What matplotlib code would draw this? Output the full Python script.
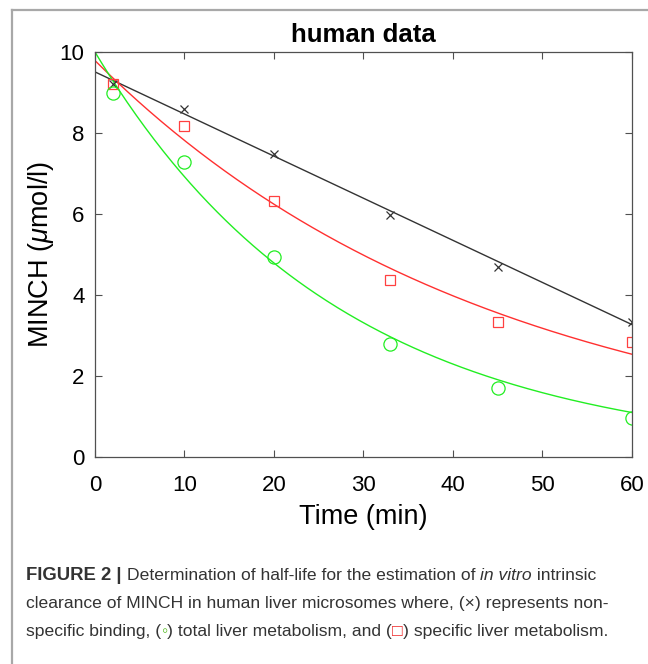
import numpy as np
import matplotlib.pyplot as plt
from matplotlib.lines import Line2D

plt.rcParams['font.family'] = ['Liberation Sans', 'DejaVu Sans']
plt.rcParams['mathtext.fontset'] = 'custom'
plt.rcParams['mathtext.it'] = 'Liberation Sans:italic'
plt.rcParams['mathtext.rm'] = 'Liberation Sans'

# measured data (time in min, MINCH in umol/l)
time = [2, 10, 20, 33, 45, 60]
nonspecific = [9.2, 8.6, 7.48, 5.97, 4.70, 3.33]
specific = [9.2, 8.17, 6.32, 4.38, 3.33, 2.83]
total = [9.0, 7.28, 4.94, 2.79, 1.70, 0.97]

# fitted model parameters
lin_fit = (9.51, -0.104)        # intercept, slope
spec_fit = (9.79, 0.0225)       # C0, k
total_fit = (10.0, 0.0368)      # C0, k

fig = plt.figure(figsize=(6.48, 6.64), dpi=100)
ax = fig.add_axes([0.1466, 0.3117, 0.8287, 0.6099])

t = np.linspace(0, 60, 300)
ax.plot(t, lin_fit[0] + lin_fit[1] * t, color='#333333', lw=1.0)
ax.plot(t, spec_fit[0] * np.exp(-spec_fit[1] * t), color='#ff3030', lw=1.0)
ax.plot(t, total_fit[0] * np.exp(-total_fit[1] * t), color='#22ee22', lw=1.0)

ax.plot(time, nonspecific, 'x', color='#333333', ms=6, mew=0.9)
ax.plot(time, specific, 's', mfc='none', mec='#ff4040', ms=7, mew=0.9)
ax.plot(time, total, 'o', mfc='none', mec='#22ee22', ms=9.5, mew=0.9)

ax.set_xlim(0, 60)
ax.set_ylim(0, 10)
ax.set_xticks(range(0, 61, 10))
ax.set_yticks(range(0, 11, 2))
ax.tick_params(direction='in', top=True, right=True, length=5, width=0.8,
               labelsize=16, colors='#505050', labelcolor='black')
ax.tick_params(axis='x', pad=13)
ax.tick_params(axis='y', pad=7.5)
for s in ax.spines.values():
    s.set_color('#505050')
    s.set_linewidth(0.9)

ax.set_title('human data', fontsize=18.5, fontweight='bold', pad=7)
ax.set_xlabel('Time (min)', fontsize=19.5, labelpad=6)
ax.set_ylabel(r'MINCH ($\mu$mol/l)', fontsize=19.5, labelpad=3)

# outer panel frame (top and left edges)
fig.add_artist(Line2D([12 / 648, 1], [1 - 10 / 664, 1 - 10 / 664], color='#a8a8a8', lw=1.6))
fig.add_artist(Line2D([12 / 648, 12 / 648], [0, 1 - 10 / 664], color='#a8a8a8', lw=1.6))

# caption, built from styled pieces
cap_col = '#333333'
lines = [
    [('FIGURE 2 | ', 'bold', 'normal', cap_col, 13.3), ('Determination of half-life for the estimation of ', 'normal', 'normal', cap_col, 12.6),
     ('in vitro', 'normal', 'italic', cap_col, 12.6), (' intrinsic', 'normal', 'normal', cap_col, 12.6)],
    [('clearance of MINCH in human liver microsomes where, (\u00d7) represents non-', 'normal', 'normal', cap_col, 12.6)],
    [('specific binding, (', 'normal', 'normal', cap_col, 12.6), ('\u25e6', 'bold', 'normal', '#55bb22', 12.6),
     (') total liver metabolism, and (', 'normal', 'normal', cap_col, 12.6), ('\u25a1', 'bold', 'normal', '#ee2222', 12.6),
     (') specific liver metabolism.', 'normal', 'normal', cap_col, 12.6)],
]
baselines = [580, 608, 636]
fig.canvas.draw()
renderer = fig.canvas.get_renderer()
for pieces, yb in zip(lines, baselines):
    x = 26
    for txt, weight, style, col, size in pieces:
        tx = fig.text(x / 648, 1 - yb / 664, txt, fontsize=size, fontweight=weight,
                      fontstyle=style, color=col, va='baseline', ha='left')
        w = tx.get_window_extent(renderer).width
        # trailing spaces are not always counted in the extent
        if txt.endswith(' '):
            probe = fig.text(0, 0, 'a a', fontsize=size)
            probe2 = fig.text(0, 0, 'aa', fontsize=size)
            sp = probe.get_window_extent(renderer).width - probe2.get_window_extent(renderer).width
            wn = fig.text(0, 0, txt.rstrip(), fontsize=size, fontweight=weight, fontstyle=style)
            w = max(w, wn.get_window_extent(renderer).width + sp)
            probe.remove(); probe2.remove(); wn.remove()
        x += w

fig.savefig('out.png', dpi=100)
